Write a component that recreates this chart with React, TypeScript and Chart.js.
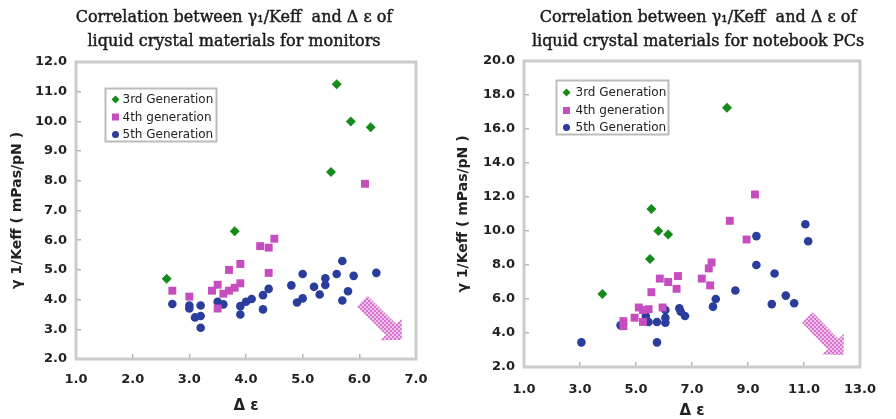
import React, { useEffect, useRef } from 'react';
import { Chart, registerables } from 'chart.js';

Chart.register(...registerables);

type Pt = [number, number];

// ---------- data: monitors ----------
const MON_GEN3: Pt[] = [[2.6, 4.7], [3.8, 6.3], [5.5, 8.3], [5.6, 11.25], [5.85, 10.0], [6.2, 9.8]];
const MON_GEN4: Pt[] = [
  [2.7, 4.3], [3.0, 4.1], [3.4, 4.3], [3.5, 4.5], [3.5, 3.7], [3.6, 4.2], [3.7, 4.3], [3.7, 5.0],
  [3.8, 4.4], [3.9, 4.55], [3.9, 5.2], [4.25, 5.8], [4.4, 5.75], [4.4, 4.9], [4.5, 6.05], [6.1, 7.9],
];
const MON_GEN5: Pt[] = [
  [2.7, 3.85], [3.0, 3.8], [3.0, 3.7], [3.2, 3.8], [3.1, 3.4], [3.2, 3.45], [3.2, 3.05], [3.5, 3.93],
  [3.6, 3.84], [3.9, 3.78], [3.9, 3.5], [4.0, 3.93], [4.1, 4.02], [4.3, 4.15], [4.4, 4.36], [4.3, 3.67],
  [4.8, 4.48], [4.9, 3.9], [5.0, 4.04], [5.0, 4.86], [5.2, 4.43], [5.3, 4.17], [5.4, 4.72], [5.4, 4.49],
  [5.6, 4.86], [5.7, 5.3], [5.9, 4.8], [5.8, 4.28], [5.7, 3.97], [6.3, 4.9],
];
const MON_X_TICKS = [1, 2, 3, 4, 5, 6, 7];
const MON_Y_TICKS = [2, 3, 4, 5, 6, 7, 8, 9, 10, 11, 12];

// ---------- data: notebook PCs ----------
const NB_GEN3: Pt[] = [[3.8, 6.3], [5.5, 8.35], [5.55, 11.3], [5.8, 10.0], [6.15, 9.8], [8.25, 17.25]];
const NB_GEN4: Pt[] = [
  [4.55, 4.4], [4.55, 4.7], [4.95, 4.9], [5.1, 5.5], [5.25, 5.35], [5.45, 5.4], [5.25, 4.65], [5.55, 6.4],
  [5.95, 5.5], [5.85, 7.2], [6.15, 7.0], [6.5, 7.35], [6.45, 6.6], [7.35, 7.2], [7.65, 6.8], [7.6, 7.8],
  [7.7, 8.15], [8.35, 10.6], [8.95, 9.5], [9.25, 12.15],
];
const NB_GEN5: Pt[] = [
  [3.05, 3.45], [4.45, 4.45], [5.35, 5.0], [5.45, 4.65], [5.75, 4.65], [5.75, 3.45], [6.05, 5.35],
  [6.05, 4.9], [6.05, 4.6], [6.55, 5.45], [6.6, 5.25], [6.75, 5.0], [7.75, 5.55], [7.85, 6.0],
  [8.55, 6.5], [9.3, 9.7], [9.3, 8.0], [9.95, 7.5], [9.85, 5.7], [10.35, 6.2], [10.65, 5.75],
  [11.05, 10.4], [11.15, 9.4],
];
const NB_X_TICKS = [1, 3, 5, 7, 9, 11, 13];
const NB_Y_TICKS = [2, 4, 6, 8, 10, 12, 14, 16, 18, 20];

const SERIES_LABELS = ['3rd Generation', '4th generation', '5th Generation'];
const MON_TITLE = ['Correlation between \u03b3\u2081/Keff  and \u0394 \u03b5 of', 'liquid crystal materials for monitors'];
const NB_TITLE = ['Correlation between \u03b3\u2081/Keff  and \u0394 \u03b5 of', 'liquid crystal materials for notebook PCs'];
const Y_TITLE = '\u03b3 1/Keff ( mPas/pN )';
const X_TITLE = '\u0394 \u03b5';

// arrow annotation (data units: from -> to)
const MON_ARROW = { from: [6.05, 3.95], to: [6.75, 2.64] };
const NB_ARROW = { from: [11.12, 4.92], to: [12.41, 2.71] };

const GREEN = '#178a1c';
const MAGENTA = '#c64dbf';
const BLUE = '#2a3d9c';
const FRAME = '#cbcbcb';

const SANS = "'DejaVu Sans', sans-serif";
const SERIF = "'DejaVu Serif', serif";

const toXY = (pts: Pt[]) => pts.map(([x, y]) => ({ x, y }));

function makePattern(ctx: CanvasRenderingContext2D) {
  const c = document.createElement('canvas');
  c.width = 4;
  c.height = 4;
  const g = c.getContext('2d')!;
  g.fillStyle = '#f2bfec';
  g.fillRect(0, 0, 4, 4);
  g.fillStyle = '#d575cc';
  g.fillRect(0, 0, 2, 2);
  g.fillRect(2, 2, 2, 2);
  return ctx.createPattern(c, 'repeat')!;
}

const framePlugin = {
  id: 'frameBox',
  beforeDatasetsDraw(chart: any) {
    const ctx = chart.ctx as CanvasRenderingContext2D;
    const a = chart.chartArea;
    ctx.save();
    ctx.beginPath();
    ctx.lineWidth = 3;
    ctx.strokeStyle = FRAME;
    ctx.rect(a.left, a.top, a.right - a.left, a.bottom - a.top);
    ctx.stroke();
    ctx.restore();
  },
};

const panelTitle = {
  id: 'panelTitle',
  afterDraw(chart: any, _args: any, opts: any) {
    if (!opts || !opts.lines) return;
    const ctx = chart.ctx;
    ctx.save();
    ctx.fillStyle = '#1a1a1a';
    ctx.strokeStyle = '#1a1a1a';
    ctx.lineWidth = 0.45;
    ctx.font = `${opts.size}px ${SERIF}`;
    ctx.textAlign = 'center';
    ctx.textBaseline = 'middle';
    opts.lines.forEach((line: string, i: number) => {
      const y = opts.y0 + i * opts.lineH;
      ctx.fillText(line, opts.cx, y);
      ctx.strokeText(line, opts.cx, y);
    });
    ctx.restore();
  },
};

const arrowPlugin = {
  id: 'bigArrow',
  afterDatasetsDraw(chart: any, _args: any, opts: any) {
    if (!opts || !opts.from) return;
    const xs = chart.scales.x;
    const ys = chart.scales.y;
    const x0 = xs.getPixelForValue(opts.from[0]);
    const y0 = ys.getPixelForValue(opts.from[1]);
    const x1 = xs.getPixelForValue(opts.to[0]);
    const y1 = ys.getPixelForValue(opts.to[1]);
    const dx = x1 - x0;
    const dy = y1 - y0;
    const len = Math.hypot(dx, dy);
    const ux = dx / len;
    const uy = dy / len;
    const px = -uy;
    const py = ux;
    const sw = 7.5;
    const hw = 15;
    const hl = 15;
    const bx = x1 - ux * hl;
    const by = y1 - uy * hl;
    const ctx = chart.ctx;
    ctx.save();
    ctx.beginPath();
    ctx.moveTo(x0 + px * sw, y0 + py * sw);
    ctx.lineTo(bx + px * sw, by + py * sw);
    ctx.lineTo(bx + px * hw, by + py * hw);
    ctx.lineTo(x1, y1);
    ctx.lineTo(bx - px * hw, by - py * hw);
    ctx.lineTo(bx - px * sw, by - py * sw);
    ctx.lineTo(x0 - px * sw, y0 - py * sw);
    ctx.closePath();
    ctx.fillStyle = makePattern(ctx);
    ctx.fill();
    ctx.restore();
  },
};

const boxLegend = {
  id: 'boxLegend',
  afterDraw(chart: any, _args: any, opts: any) {
    if (!opts || opts.dx === undefined) return;
    const ctx = chart.ctx as CanvasRenderingContext2D;
    const a = chart.chartArea;
    const left = Math.round(a.left + opts.dx) + 0.5;
    const top = Math.round(a.top + opts.dy) + 0.5;
    ctx.save();
    ctx.fillStyle = '#ffffff';
    ctx.fillRect(left, top, opts.w, opts.h);
    ctx.beginPath();
    ctx.lineWidth = 2;
    ctx.strokeStyle = '#bcbcbc';
    ctx.rect(left, top, opts.w, opts.h);
    ctx.stroke();
    chart.data.datasets.forEach((ds: any, i: number) => {
      const cy = top + opts.rows[i];
      const cx = left + opts.markerX;
      ctx.fillStyle = ds.backgroundColor;
      ctx.beginPath();
      if (ds.pointStyle === 'rectRot') {
        ctx.moveTo(cx - 4, cy);
        ctx.lineTo(cx, cy - 4);
        ctx.lineTo(cx + 4, cy);
        ctx.lineTo(cx, cy + 4);
        ctx.closePath();
      } else if (ds.pointStyle === 'rect') {
        ctx.rect(cx - 3.5, cy - 3.5, 7, 7);
      } else {
        ctx.arc(cx, cy, 3.5, 0, Math.PI * 2);
      }
      ctx.fill();
      ctx.fillStyle = '#222222';
      ctx.font = `12px ${SANS}`;
      ctx.textBaseline = 'middle';
      ctx.textAlign = 'left';
      ctx.fillText(ds.label, left + opts.textX, cy + 0.5);
    });
    ctx.restore();
  },
};

interface PanelCfg {
  title: string[];
  titleCx: number;
  g3: Pt[];
  g4: Pt[];
  g5: Pt[];
  xTicks: number[];
  yTicks: number[];
  arrow: { from: number[]; to: number[] };
  legend: any;
  areaTop: number;
  areaBottom: number;
  padRight: number;
  xTickPad: number;
  xTitlePad: number;
  yTitlePad: number;
}

function Panel({ cfg }: { cfg: PanelCfg }) {
  const ref = useRef<HTMLCanvasElement>(null);
  useEffect(() => {
    const H = 419;
    const chart = new Chart(ref.current!, {
      type: 'scatter',
      data: {
        datasets: [
          { label: SERIES_LABELS[0], data: toXY(cfg.g3), pointStyle: 'rectRot', pointRadius: 5, backgroundColor: GREEN, borderColor: GREEN, borderWidth: 0 },
          { label: SERIES_LABELS[1], data: toXY(cfg.g4), pointStyle: 'rect', pointRadius: 5.6, backgroundColor: MAGENTA, borderColor: MAGENTA, borderWidth: 0 },
          { label: SERIES_LABELS[2], data: toXY(cfg.g5), pointStyle: 'circle', pointRadius: 4.3, backgroundColor: BLUE, borderColor: BLUE, borderWidth: 0 },
        ],
      },
      options: {
        responsive: false,
        animation: false,
        events: [],
        layout: { padding: { left: 0, right: cfg.padRight, top: cfg.areaTop, bottom: 0 } },
        plugins: {
          legend: { display: false },
          tooltip: { enabled: false },
          title: { display: false },
          panelTitle: { lines: cfg.title, cx: cfg.titleCx, y0: 18, lineH: 24, size: 16 },
          bigArrow: cfg.arrow,
          boxLegend: cfg.legend,
        } as any,
        scales: {
          x: {
            type: 'linear',
            min: cfg.xTicks[0],
            max: cfg.xTicks[cfg.xTicks.length - 1],
            afterBuildTicks: (axis: any) => {
              axis.ticks = cfg.xTicks.map((v) => ({ value: v }));
            },
            afterFit: (axis: any) => {
              axis.height = H - cfg.areaBottom;
            },
            grid: { display: true, drawOnChartArea: false, drawTicks: true, tickLength: -5, color: '#b4b4b4', lineWidth: 1.5 },
            border: { display: false },
            ticks: {
              color: '#222222',
              font: { family: SANS, size: 13, weight: 'bold' },
              padding: cfg.xTickPad + 5,
              maxRotation: 0,
              callback: (v: any) => Number(v).toFixed(1),
            },
            title: {
              display: true,
              text: X_TITLE,
              color: '#222222',
              font: { family: SANS, size: 15, weight: 'bold', lineHeight: 1 },
              padding: { top: 0, bottom: cfg.xTitlePad },
            },
          },
          y: {
            type: 'linear',
            min: cfg.yTicks[0],
            max: cfg.yTicks[cfg.yTicks.length - 1],
            afterBuildTicks: (axis: any) => {
              axis.ticks = cfg.yTicks.map((v) => ({ value: v }));
            },
            afterFit: (axis: any) => {
              axis.width = 76;
            },
            grid: { display: true, drawOnChartArea: false, drawTicks: true, tickLength: -5, color: '#b4b4b4', lineWidth: 1.5 },
            border: { display: false },
            ticks: {
              color: '#222222',
              font: { family: SANS, size: 13, weight: 'bold' },
              padding: 14,
              callback: (v: any) => Number(v).toFixed(1),
            },
            title: {
              display: true,
              text: Y_TITLE,
              color: '#222222',
              font: { family: SANS, size: 14, weight: 'bold', lineHeight: 1 },
              padding: { top: cfg.yTitlePad, bottom: 0 },
            },
          },
        },
      },
      plugins: [framePlugin, arrowPlugin, boxLegend, panelTitle],
    });
    return () => chart.destroy();
  }, [cfg]);
  return <canvas ref={ref} width={448} height={419} style={{ display: 'block', width: 448, height: 419 }} />;
}

const MON_CFG: PanelCfg = {
  title: MON_TITLE,
  titleCx: 234,
  g3: MON_GEN3,
  g4: MON_GEN4,
  g5: MON_GEN5,
  xTicks: MON_X_TICKS,
  yTicks: MON_Y_TICKS,
  arrow: MON_ARROW,
  legend: { dx: 29, dy: 26, w: 111, h: 53, rows: [11, 28.5, 46], markerX: 10, textX: 17 },
  areaTop: 62,
  areaBottom: 359,
  padRight: 32,
  xTickPad: 13,
  xTitlePad: 5.5,
  yTitlePad: 10,
};

const NB_CFG: PanelCfg = {
  title: NB_TITLE,
  titleCx: 250,
  g3: NB_GEN3,
  g4: NB_GEN4,
  g5: NB_GEN5,
  xTicks: NB_X_TICKS,
  yTicks: NB_Y_TICKS,
  arrow: NB_ARROW,
  legend: { dx: 32, dy: 19, w: 112, h: 54, rows: [12, 30, 47], markerX: 10, textX: 19 },
  areaTop: 61,
  areaBottom: 367,
  padRight: 16,
  xTickPad: 15,
  xTitlePad: 0,
  yTitlePad: 8,
};

export default function App() {
  return (
    <div style={{ position: 'fixed', left: 0, top: 0, width: 896, height: 419, display: 'flex', background: '#ffffff', overflow: 'hidden' }}>
      <Panel cfg={MON_CFG} />
      <Panel cfg={NB_CFG} />
    </div>
  );
}
